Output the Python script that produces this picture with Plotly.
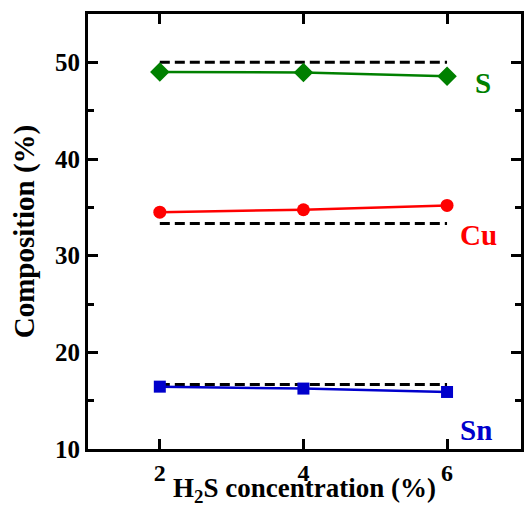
import plotly.graph_objects as go

x_conc = [2, 4, 6]
s_vals = [49.0, 48.95, 48.55]
cu_vals = [34.5, 34.75, 35.2]
sn_vals = [16.45, 16.25, 15.9]
stoich = [50.0, 33.33, 16.67]
labels = ["S", "Cu", "Sn"]
colors = ["#008000", "#ff0000", "#0000cc"]

font_family = "Liberation Serif"
fig = go.Figure()

for val in stoich:
    fig.add_trace(go.Scatter(x=[x_conc[0], x_conc[-1]], y=[val, val], mode="lines",
                             line=dict(color="black", width=3, dash="10px,5px"),
                             showlegend=False, hoverinfo="skip"))

series = [(s_vals, "diamond", 15), (cu_vals, "circle", 13), (sn_vals, "square", 12)]
for (vals, sym, sz), col in zip(series, colors):
    fig.add_trace(go.Scatter(x=x_conc, y=vals, mode="lines+markers",
                             line=dict(color=col, width=2.5),
                             marker=dict(symbol=sym, size=sz, color=col),
                             showlegend=False))

label_pos = [(6.5, 47.9), (6.44, 32.1), (6.40, 12.0)]
for (lx, ly), txt, col in zip(label_pos, labels, colors):
    fig.add_annotation(x=lx, y=ly, text="<b>%s</b>" % txt, showarrow=False,
                       font=dict(family=font_family, size=29, color=col),
                       xanchor="center", yanchor="middle")

# x-axis title as annotation placed at the bottom edge
fig.add_annotation(x=0.5, y=-59 / 435, xref="paper", yref="paper",
                   text="<b>H<sub>2</sub>S concentration (%)</b>", showarrow=False,
                   font=dict(family=font_family, size=27, color="black"),
                   xanchor="center", yanchor="bottom", borderpad=0)

axis_common = dict(showline=True, linecolor="black", linewidth=3, mirror="allticks",
                   ticks="inside", tickwidth=3, tickcolor="black", ticklen=10,
                   showgrid=False, zeroline=False)

fig.update_xaxes(range=[1, 7.03], tickvals=x_conc, ticktext=["<b>%d</b>" % v for v in x_conc],
                 tickfont=dict(family=font_family, size=24, color="black"),
                 **axis_common)
fig.update_yaxes(range=[10, 55], tickvals=[10, 20, 30, 40, 50],
                 ticktext=["<b>%d</b>" % v for v in [10, 20, 30, 40, 50]],
                 tickfont=dict(family=font_family, size=25, color="black"),
                 minor=dict(tickvals=[15, 25, 35, 45, 55], ticks="inside", ticklen=6,
                            tickwidth=3, tickcolor="black"),
                 title=dict(text="<b>Composition (%)</b>",
                            font=dict(family=font_family, size=29, color="black"), standoff=12),
                 **axis_common)

fig.update_layout(width=526, height=508, margin=dict(l=88, r=2, t=14, b=59),
                  plot_bgcolor="white", paper_bgcolor="white")

fig.write_html("out.html")
